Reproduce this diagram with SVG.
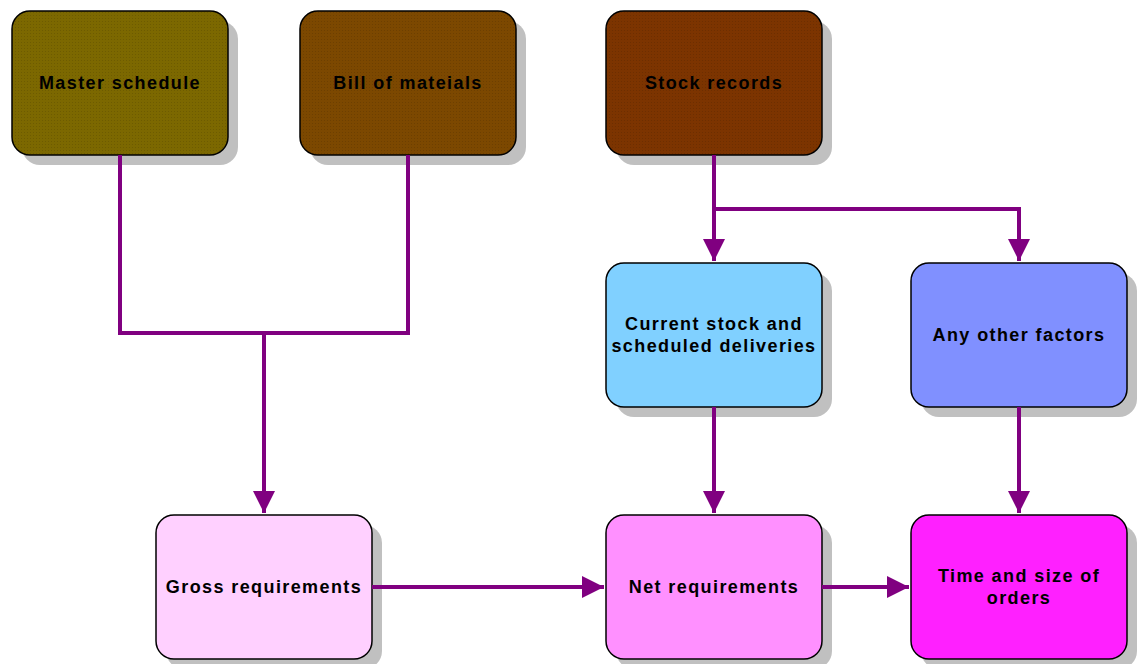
<svg xmlns="http://www.w3.org/2000/svg" width="1144" height="664" viewBox="0 0 1144 664">
<style>
.box{stroke:#000;stroke-width:1.5}
.sh{fill:#c0c0c0}
.t{font-family:"Liberation Sans",Arial,sans-serif;font-weight:bold;font-size:18px;letter-spacing:1.4px;text-anchor:middle;fill:#000}
.c{fill:none;stroke:#800080;stroke-width:4}
</style>
<defs>
<marker id="ah" viewBox="0 0 10 10" refX="10" refY="5" markerWidth="5.5" markerHeight="5.5" orient="auto" markerUnits="strokeWidth">
<path d="M0,0 L10,5 L0,10 Z" fill="#800080"/>
</marker>
<pattern id="dots" width="3" height="3" patternUnits="userSpaceOnUse">
<rect width="3" height="3" fill="none"/>
<rect width="1" height="1" fill="#000" opacity="0.12"/>
</pattern>
</defs>
<rect width="1144" height="664" fill="#fff"/>
<g id="master">
<rect class="sh" x="22" y="21" width="216" height="144" rx="18"/>
<rect class="box" x="12" y="11" width="216" height="144" rx="18" fill="#7c6800"/>
<rect x="12" y="11" width="216" height="144" rx="18" fill="url(#dots)"/>
<text class="t" x="120" y="89">Master schedule</text>
</g>
<g id="bom">
<rect class="sh" x="310" y="21" width="216" height="144" rx="18"/>
<rect class="box" x="300" y="11" width="216" height="144" rx="18" fill="#7c4800"/>
<rect x="300" y="11" width="216" height="144" rx="18" fill="url(#dots)"/>
<text class="t" x="408" y="89">Bill of mateials</text>
</g>
<g id="stock">
<rect class="sh" x="616" y="21" width="216" height="144" rx="18"/>
<rect class="box" x="606" y="11" width="216" height="144" rx="18" fill="#7c3400"/>
<rect x="606" y="11" width="216" height="144" rx="18" fill="url(#dots)"/>
<text class="t" x="714" y="89">Stock records</text>
</g>
<g id="current">
<rect class="sh" x="616" y="273" width="216" height="144" rx="18"/>
<rect class="box" x="606" y="263" width="216" height="144" rx="18" fill="#80d0ff"/>
<text class="t" x="714" y="330">Current stock and</text>
<text class="t" x="714" y="352">scheduled deliveries</text>
</g>
<g id="other">
<rect class="sh" x="921" y="273" width="216" height="144" rx="18"/>
<rect class="box" x="911" y="263" width="216" height="144" rx="18" fill="#8090ff"/>
<text class="t" x="1019" y="341">Any other factors</text>
</g>
<g id="gross">
<rect class="sh" x="166" y="525" width="216" height="144" rx="18"/>
<rect class="box" x="156" y="515" width="216" height="144" rx="18" fill="#ffd0ff"/>
<text class="t" x="264" y="593">Gross requirements</text>
</g>
<g id="net">
<rect class="sh" x="616" y="525" width="216" height="144" rx="18"/>
<rect class="box" x="606" y="515" width="216" height="144" rx="18" fill="#ff90ff"/>
<text class="t" x="714" y="593">Net requirements</text>
</g>
<g id="time">
<rect class="sh" x="921" y="525" width="216" height="144" rx="18"/>
<rect class="box" x="911" y="515" width="216" height="144" rx="18" fill="#ff20ff"/>
<text class="t" x="1019" y="582">Time and size of</text>
<text class="t" x="1019" y="604">orders</text>
</g>
<g id="connectors">
<polyline class="c" points="120,155 120,333 408,333 408,155"/>
<polyline class="c" points="264,333 264,513" marker-end="url(#ah)"/>
<polyline class="c" points="714,155 714,261" marker-end="url(#ah)"/>
<polyline class="c" points="714,209 1019,209 1019,261" marker-end="url(#ah)"/>
<polyline class="c" points="714,407 714,513" marker-end="url(#ah)"/>
<polyline class="c" points="1019,407 1019,513" marker-end="url(#ah)"/>
<polyline class="c" points="372,587 604,587" marker-end="url(#ah)"/>
<polyline class="c" points="822,587 909,587" marker-end="url(#ah)"/>
</g>
</svg>
